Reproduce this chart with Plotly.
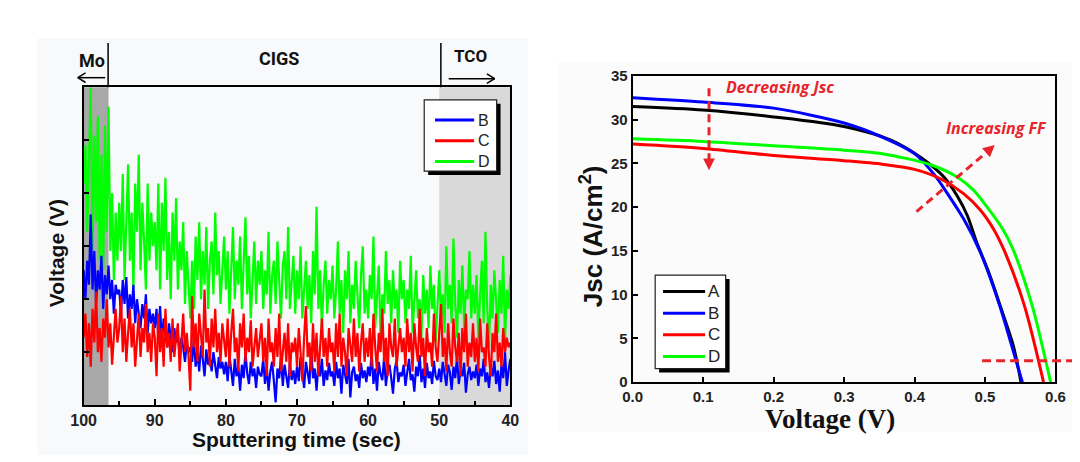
import numpy as np
import plotly.graph_objects as go

# ---------------- Left panel data (voltage, arbitrary units 0-330) ----------------
# samples every 0.25 s from 100 s down to 40 s
volt_D = [230, 270, 180, 250, 330, 160, 280, 190, 300, 150, 260, 140, 290, 180, 310, 160, 220, 130, 200, 150,
          210, 160, 240, 130, 190, 250, 150, 200, 120, 230, 180, 260, 140, 210, 170, 120, 230, 150, 200, 165,
          190, 140, 230, 120, 210, 160, 236, 130, 180, 110, 200, 150, 215, 120, 170, 140, 190, 105, 160, 130,
          90, 150, 100, 175, 130, 190, 110, 160, 125, 185, 100, 150, 170, 115, 200, 135, 160, 105, 145, 175,
          120, 160, 95, 145, 185, 110, 150, 125, 175, 100, 140, 195, 115, 155, 90, 135, 170, 105, 150, 125,
          160, 100, 140, 115, 180, 95, 135, 150, 105, 170, 120, 90, 145, 160, 110, 185, 100, 130, 155, 95,
          140, 110, 165, 90, 125, 150, 100, 135, 85, 160, 115, 206, 100, 140, 80, 125, 150, 95, 130, 110,
          145, 90, 120, 170, 95, 130, 75, 140, 110, 160, 85, 125, 100, 150, 115, 80, 135, 165, 95, 120,
          90, 135, 110, 175, 80, 120, 145, 70, 115, 95, 160, 105, 130, 85, 140, 100, 120, 75, 150, 110,
          130, 85, 120, 100, 155, 75, 115, 140, 90, 110, 70, 135, 95, 120, 80, 145, 100, 125, 65, 110,
          140, 90, 115, 75, 165, 100, 125, 85, 173, 105, 70, 130, 95, 145, 80, 120, 110, 160, 90, 125,
          95, 135, 70, 115, 150, 85, 180, 100, 60, 125, 90, 140, 110, 75, 130, 95, 155, 65, 120, 100,
          135]
volt_B = [140, 110, 150, 125, 198, 120, 160, 105, 140, 120, 155, 100, 135, 115, 145, 110, 130, 95, 125, 115,
          120, 95, 130, 105, 133, 90, 115, 100, 125, 85, 110, 95, 80, 105, 90, 115, 75, 100, 85, 95,
          80, 100, 70, 103, 65, 90, 75, 60, 85, 70, 55, 80, 65, 75, 50, 70, 60, 45, 65, 55,
          60, 45, 70, 40, 55, 35, 62, 48, 30, 58, 42, 50, 35, 55, 40, 28, 50, 38, 45, 32,
          45, 25, 52, 35, 20, 48, 30, 40, 15, 42, 28, 55, 33, 22, 45, 30, 38, 18, 40, 32,
          30, 48, 22, 40, 15, 35, 45, 25, 3, 38, 28, 50, 20, 42, 32, 18, 44, 26, 36, 22,
          40, 25, 50, 30, 18, 45, 35, 22, 60, 28, 38, 15, 42, 30, 48, 20, 36, 26, 44, 30,
          35, 20, 45, 28, 38, 12, 42, 30, 22, 48, 8, 34, 40, 25, 32, 18, 44, 28, 36, 24,
          40, 30, 55, 22, 38, 15, 45, 32, 26, 50, 20, 36, 42, 28, 12, 38, 46, 24, 34, 30,
          42, 20, 36, 48, 26, 32, 14, 40, 30, 52, 24, 38, 18, 44, 28, 35, 22, 46, 30, 26,
          38, 24, 45, 30, 20, 42, 34, 16, 40, 28, 50, 22, 36, 30, 44, 13, 32, 40, 26, 35,
          28, 42, 20, 38, 30, 48, 24, 34, 18, 40, 30, 46, 22, 36, 14, 42, 28, 55, 20, 36,
          48]
volt_C = [70, 95, 50, 85, 40, 100, 65, 118, 55, 80, 45, 90, 70, 110, 60, 85, 42, 75, 100, 65,
          80, 113, 55, 90, 45, 75, 100, 60, 85, 40, 70, 95, 50, 80, 65, 105, 55, 75, 45, 85,
          70, 30, 95, 55, 80, 40, 100, 60, 75, 45, 90, 50, 70, 85, 35, 65, 95, 55, 75, 50,
          15, 113, 60, 85, 45, 95, 70, 50, 120, 65, 80, 40, 90, 60, 100, 55, 75, 45, 85, 65,
          50, 90, 40, 75, 100, 55, 70, 35, 85, 60, 95, 45, 70, 55, 88, 40, 65, 80, 50, 72,
          85, 45, 70, 30, 90, 55, 65, 40, 80, 50, 95, 35, 60, 75, 45, 85, 30, 65, 55, 70,
          40, 80, 55, 25, 70, 103, 50, 65, 35, 85, 45, 75, 30, 60, 90, 50, 70, 40, 80, 55,
          65, 35, 85, 50, 95, 40, 70, 55, 30, 80, 60, 45, 90, 50, 75, 35, 65, 85, 45, 70,
          50, 80, 40, 95, 60, 35, 75, 55, 100, 45, 70, 30, 85, 60, 50, 90, 40, 65, 80, 55,
          70, 40, 90, 55, 75, 35, 85, 60, 45, 100, 50, 70, 30, 80, 55, 65, 40, 95, 60, 45,
          75, 105, 50, 70, 35, 85, 55, 40, 90, 60, 45, 75, 30, 80, 55, 95, 40, 65, 50, 85,
          45, 70, 35, 90, 55, 60, 40, 85, 50, 30, 75, 55, 95, 45, 65, 40, 80, 55, 70, 60,
          65]
time_first, time_last = 100, 40
mo_edge, tco_edge = 96.5, 50

# ---------------- Right panel data (J-V curves) ----------------
V_A = [0, 0.1, 0.2, 0.3, 0.368, 0.41, 0.442, 0.461, 0.475, 0.488, 0.505, 0.522, 0.54, 0.551]
J_A = [31.5, 31.1, 30.3, 29.2, 27.6, 25.6, 23.4, 21.2, 19.0, 16.0, 12.6, 8.6, 4.2, 0]
V_B = [0, 0.1, 0.2, 0.3, 0.354, 0.4, 0.428, 0.447, 0.47, 0.493, 0.521, 0.544, 0.553]
J_B = [32.5, 32.0, 31.3, 29.6, 28.0, 26.1, 23.7, 21.5, 18.6, 14.9, 8.7, 2.45, 0]
V_C = [0, 0.1, 0.2, 0.3, 0.354, 0.4, 0.4375, 0.47, 0.493, 0.512, 0.528, 0.556, 0.583]
J_C = [27.2, 26.7, 25.9, 25.3, 24.9, 24.3, 23.2, 21.5, 19.7, 17.5, 14.9, 8.7, 0]
V_D = [0, 0.1, 0.2, 0.3, 0.354, 0.424, 0.461, 0.484, 0.502, 0.525, 0.539, 0.567, 0.593]
J_D = [27.8, 27.5, 27.0, 26.5, 26.1, 24.8, 23.4, 21.9, 20.1, 17.5, 15.3, 8.7, 0]

W, H = 1080, 462
def PX(x):
    return x / W
def PY(y):
    return 1 - y / H

RED = '#e8242a'
fig = go.Figure()

def tgrid(vals):
    return np.linspace(time_first, time_last, len(vals))

for vals, col in [(volt_D, '#00ff00'), (volt_B, '#0000ff'), (volt_C, '#ff0000')]:
    fig.add_trace(go.Scatter(x=tgrid(vals), y=vals, mode='lines', line=dict(color=col, width=2.2),
                             xaxis='x', yaxis='y', showlegend=False, hoverinfo='skip'))

for V, J, col in [(V_A, J_A, '#000000'), (V_B, J_B, '#0000ff'), (V_C, J_C, '#ff0000'), (V_D, J_D, '#00ff00')]:
    fig.add_trace(go.Scatter(x=V, y=J, mode='lines', line=dict(color=col, width=3, shape='spline', smoothing=0.8),
                             xaxis='x2', yaxis='y2', showlegend=False))

tickfont = dict(family='Liberation Sans', size=16, color='#222222', weight=700)
axis_common = dict(showline=True, linecolor='black', linewidth=2, mirror=True, showgrid=False,
                   zeroline=False, ticks='inside', tickcolor='black')

shapes = []
# faint panel backgrounds
shapes.append(dict(type='rect', xref='paper', yref='paper', x0=PX(17), x1=PX(518), y0=PY(455), y1=PY(22),
                   fillcolor='#f8f9fa', line=dict(width=0), layer='below'))
shapes.append(dict(type='rect', xref='paper', yref='paper', x0=PX(548), x1=PX(1080), y0=PY(430), y1=PY(47),
                   fillcolor='#fbfbfb', line=dict(width=0), layer='below'))
# region bands
shapes.append(dict(type='rect', xref='x', yref='y domain', x0=time_first, x1=mo_edge, y0=0, y1=1,
                   fillcolor='#a8a8a8', line=dict(width=0), layer='below'))
shapes.append(dict(type='rect', xref='x', yref='y domain', x0=tco_edge, x1=time_last, y0=0, y1=1,
                   fillcolor='#d9d9d9', line=dict(width=0), layer='below'))

def seg(x0, y0, x1, y1, color='black', width=1.5, dash=None):
    ln = dict(color=color, width=width)
    if dash:
        ln['dash'] = dash
    shapes.append(dict(type='line', xref='paper', yref='paper', x0=PX(x0), y0=PY(y0), x1=PX(x1), y1=PY(y1), line=ln))

# region separators and arrows above left plot
seg(89, 27, 89, 73)
seg(429, 27, 429, 73)
seg(58, 63, 86, 63)
seg(58, 63, 66, 58)
seg(58, 63, 66, 68)
seg(437, 64, 484, 64)
seg(484, 64, 476, 59)
seg(484, 64, 476, 69)

def tri(pts, color):
    path = 'M ' + ' L '.join(f'{PX(x)},{PY(y)}' for x, y in pts) + ' Z'
    shapes.append(dict(type='path', xref='paper', yref='paper', path=path, fillcolor=color, line=dict(width=0)))

# right panel dashed arrows
seg(703, 74, 703, 148, color=RED, width=3, dash='8px,5px')
tri([(697, 147), (709, 147), (703, 159)], RED)
seg(915, 202, 986, 141, color=RED, width=3, dash='8px,5px')
tri([(990, 145.5), (982, 136.3), (995, 133)], RED)
seg(982, 357, 1080, 357, color=RED, width=3, dash='9px,5px')

annotations = []
def txt(x, y, s, size, family='Liberation Sans', color='#111111', weight=700, style='normal',
        angle=0, xanchor='center'):
    annotations.append(dict(x=PX(x), y=PY(y), xref='paper', yref='paper', text=s, showarrow=False,
                            xanchor=xanchor, yanchor='middle', textangle=angle,
                            font=dict(family=family, size=size, color=color, weight=weight, style=style)))

# legends (manual boxes with shadow)
def legend_box(x0, y0, x1, y1, entries, lx0, lx1, tx, size):
    shapes.append(dict(type='rect', xref='paper', yref='paper', x0=PX(x0 + 4), x1=PX(x1 + 4),
                       y0=PY(y1 + 4), y1=PY(y0 + 4), fillcolor='black', line=dict(width=0)))
    shapes.append(dict(type='rect', xref='paper', yref='paper', x0=PX(x0), x1=PX(x1),
                       y0=PY(y1), y1=PY(y0), fillcolor='white', line=dict(color='#222222', width=1.2)))
    for label, col, yy in entries:
        seg(lx0, yy, lx1, yy, color=col, width=3)
        txt(tx, yy, label, size, color='#222222', weight=400, xanchor='left')

legend_box(412, 86, 486, 160, [('B', '#0000ff', 107), ('C', '#ff0000', 128.5), ('D', '#00ff00', 150)],
           423, 463, 465, 16)
legend_box(648, 268, 720, 365, [('A', '#000000', 285), ('B', '#0000ff', 307.5), ('C', '#ff0000', 330),
                                ('D', '#00ff00', 352.5)], 656, 699, 700, 17)

# left texts
txt(73, 45, 'Mo', 18, family='Roboto')
txt(264, 43, 'CIGS', 18, family='Roboto')
txt(459, 41, 'TCO', 17, family='Roboto')
txt(37, 245, 'Voltage (V)', 21, angle=-90)
txt(282, 439, 'Sputtering time (sec)', 21)
# right texts
txt(583, 228, 'Jsc (A/cm<sup>2</sup>)', 26, angle=-90)
txt(827, 417, 'Voltage (V)', 27, family='Liberation Serif', color='#111111')
txt(776, 73, 'Decreasing Jsc', 16, family='Open Sans', color=RED, style='italic')
txt(997, 115, 'Increasing FF', 16, family='Open Sans', color=RED, style='italic')

fig.update_layout(
    width=W, height=H, autosize=False,
    margin=dict(l=0, r=0, t=0, b=0),
    paper_bgcolor='white', plot_bgcolor='rgba(0,0,0,0)',
    showlegend=False,
    xaxis=dict(domain=[PX(64), PX(500)], range=[time_first, time_last], anchor='y',
               tick0=40, dtick=10, ticklen=6, tickwidth=2, tickfont=tickfont,
               minor=dict(dtick=5, ticks='inside', ticklen=4, tickwidth=2, tickcolor='black'),
               **axis_common),
    yaxis=dict(domain=[PY(403), PY(73)], range=[0, 330], anchor='x', showticklabels=False,
               tick0=0, dtick=55, ticklen=5, tickwidth=1.5, **axis_common),
    xaxis2=dict(domain=[PX(625), PX(1057)], range=[0, 0.6], anchor='y2', tick0=0, dtick=0.1,
                tickformat='.1f', ticklen=5, tickwidth=2,
                tickfont=dict(family='Liberation Sans', size=15, color='#222222', weight=700),
                **axis_common),
    yaxis2=dict(domain=[PY(379), PY(61)], range=[0, 35], anchor='x2', tick0=0, dtick=5,
                ticklen=5, tickwidth=2,
                tickfont=dict(family='Liberation Sans', size=15, color='#222222', weight=700),
                **axis_common),
    shapes=shapes,
    annotations=annotations,
)

fig.write_html('out.html')
